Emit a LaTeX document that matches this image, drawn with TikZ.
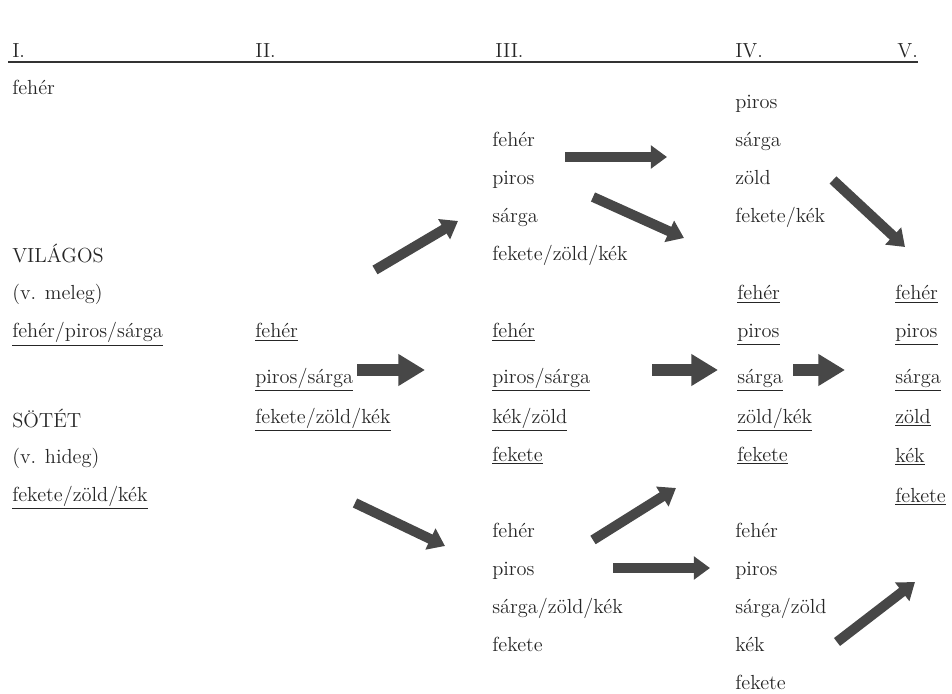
\documentclass[tikz,border=0pt]{standalone}
\usetikzlibrary{arrows.meta}

\tikzset{
  szin/.style={anchor=base west, inner sep=0pt, text=black!85,
    font=\fontsize{14.5}{17}\selectfont},
  nyil/.style={draw=black!72, line width=7.1pt,
    -{Triangle[length=11.5pt, width=16pt]}},
  blokknyil/.style={draw=black!72, line width=9.2pt,
    -{Triangle[length=19pt, width=21.5pt]}},
}
\newcommand{\ah}[1]{\underline{#1}}

\begin{document}
\begin{tikzpicture}[x=0.025cm, y=-0.025cm]
\useasboundingbox (0,0) rectangle (952,694);

\path (12,58)  node[szin] (h1) {I.}
      (255,58) node[szin] (h2) {II.}
      (495,58) node[szin] (h3) {III.}
      (735,58) node[szin] (h4) {IV.}
      (897,58) node[szin] (h5) {V.};
\draw[line width=1.4pt, black!80] (8,62) -- (918,62);

\node[szin] (feher) at (12,95) {fehér};

%%%%%%%%%%%%%%%%%%%%%%%%%%%%%%%%%%%%%%%%

\path (12,263) node[szin] (vilagos) {VILÁGOS}
  ++(0,37) node[szin] (meleg) {(v. meleg)}
  ++(0,38) node[szin] (vil) {\ah{fehér/piros/sárga}};
\path (12,427) node[szin] (sotet) {SÖTÉT}
  ++(0,36) node[szin] (hideg) {(v. hideg)}
  ++(0,38) node[szin] (sot) {\ah{fekete/zöld/kék}};

\path (255,338) node[szin] (IIa) {\ah{fehér}}
  ++(0,45) node[szin] (IIb) {\ah{piros/sárga}}
  ++(0,40) node[szin] (IIc) {\ah{fekete/zöld/kék}};

\path (492,147) node[szin] (IIIfa) {fehér}
  ++(0,38) node[szin] (IIIfb) {piros}
  ++(0,38) node[szin] (IIIfc) {sárga}
  ++(0,38) node[szin] (IIIfd) {fekete/zöld/kék};
\path (492,338) node[szin] (IIIka) {\ah{fehér}}
  ++(0,45) node[szin] (IIIkb) {\ah{piros/sárga}}
  ++(0,40) node[szin] (IIIkc) {\ah{kék/zöld}}
  ++(0,38) node[szin] (IIIkd) {\ah{fekete}};
\path (492,537) node[szin] (IIIaa) {fehér}
  ++(0,38) node[szin] (IIIab) {piros}
  ++(0,38) node[szin] (IIIac) {sárga/zöld/kék}
  ++(0,38) node[szin] (IIIad) {fekete};

\path (735,109) node[szin] (IVfa) {piros}
  ++(0,38) node[szin] (IVfb) {sárga}
  ++(0,38) node[szin] (IVfc) {zöld}
  ++(0,38) node[szin] (IVfd) {fekete/kék};
\path (737,300) node[szin] (IVka) {\ah{fehér}}
  ++(0,38) node[szin] (IVkb) {\ah{piros}}
  ++(0,46) node[szin] (IVkc) {\ah{sárga}}
  ++(0,39) node[szin] (IVkd) {\ah{zöld/kék}}
  ++(0,38) node[szin] (IVke) {\ah{fekete}};
\path (735,537) node[szin] (IVaa) {fehér}
  ++(0,38) node[szin] (IVab) {piros}
  ++(0,38) node[szin] (IVac) {sárga/zöld}
  ++(0,38) node[szin] (IVad) {kék}
  ++(0,38) node[szin] (IVae) {fekete};

\path (895,300) node[szin] (Va) {\ah{fehér}}
  ++(0,38) node[szin] (Vb) {\ah{piros}}
  ++(0,46) node[szin] (Vc) {\ah{sárga}}
  ++(0,39) node[szin] (Vd) {\ah{zöld}}
  ++(0,39) node[szin] (Ve) {\ah{kék}}
  ++(0,40) node[szin] (Vf) {\ah{fekete}};

%%%%%%%%%%%%%%%%%%%%%%%%%%%%%%%%%%%%%%%%

\path (375,270) coordinate (n1a)  (458,221) coordinate (n1b)
      (565,157) coordinate (n2a)  (667,157) coordinate (n2b)
      (593,197) coordinate (n3a)  (684,238) coordinate (n3b)
      (833,180) coordinate (n4a)  (905,247) coordinate (n4b)
      (357,370) coordinate (k1a)  (425,370) coordinate (k1b)
      (652,370) coordinate (k2a)  (718,370) coordinate (k2b)
      (793,370) coordinate (k3a)  (845,370) coordinate (k3b)
      (593,540) coordinate (n5a)  (676,488) coordinate (n5b)
      (355,503) coordinate (n6a)  (445,546) coordinate (n6b)
      (613,568) coordinate (n7a)  (710,568) coordinate (n7b)
      (837,642) coordinate (n8a)  (915,582) coordinate (n8b);

\draw[nyil] (n1a) -- (n1b);
\draw[nyil] (n2a) -- (n2b);
\draw[nyil] (n3a) -- (n3b);
\draw[nyil] (n4a) -- (n4b);
\draw[blokknyil] (k1a) -- (k1b);
\draw[blokknyil] (k2a) -- (k2b);
\draw[blokknyil] (k3a) -- (k3b);
\draw[nyil] (n5a) -- (n5b);
\draw[nyil] (n6a) -- (n6b);
\draw[nyil] (n7a) -- (n7b);
\draw[nyil] (n8a) -- (n8b);
\end{tikzpicture}
\end{document}
